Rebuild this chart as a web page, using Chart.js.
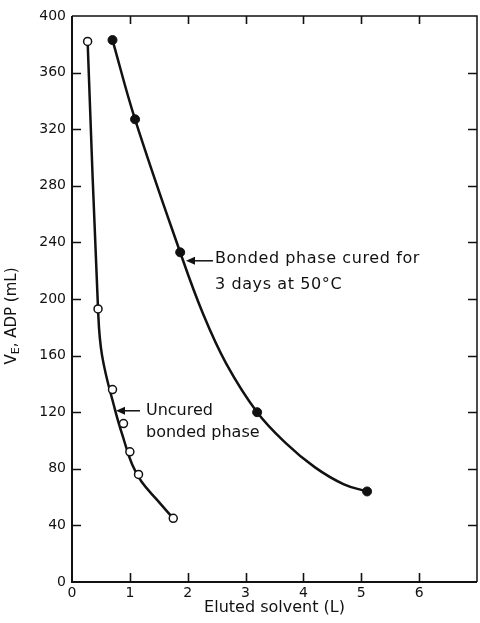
<!DOCTYPE html>
<html>
<head>
<meta charset="utf-8">
<script src="https://cdn.jsdelivr.net/npm/chart.js@4.4.0/dist/chart.umd.min.js"></script>
<style>
  html, body { margin: 0; padding: 0; background: #fff; }
  canvas { display: block; }
</style>
</head>
<body>
<canvas id="chart" width="480" height="623"></canvas>
<script>
// uncured bonded phase (open circles)
const uncuredX = [0.27, 0.45, 0.70, 0.89, 1.00, 1.15, 1.75];
const uncuredY = [382, 193, 136, 112, 92, 76, 45];
// the drawn fit line for the uncured phase
const uncuredCurveX = [0.27, 0.45, 0.52, 0.745, 0.90, 1.04, 1.20, 1.47, 1.75];
const uncuredCurveY = [382, 193, 160, 121.5, 100, 83, 71, 58, 45];
// bonded phase cured 3 days at 50°C (filled circles)
const curedX = [0.70, 1.09, 1.87, 3.20, 5.10];
const curedY = [383, 327, 233, 120, 64];
// the drawn line through the cured points
const curedCurveX = [0.70, 1.09, 1.87, 2.27, 2.67, 3.20, 3.70, 4.20, 4.70, 5.10];
const curedCurveY = [383, 327, 233, 189, 154, 120, 98, 81, 69, 64];

const xMin = 0, xMax = 7, xStep = 1;
const yMin = 0, yMax = 400, yStep = 40;

const fontFamily = "'DejaVu Sans', sans-serif";
const ink = "#111";

function toPoints(xs, ys) {
  return xs.map((x, i) => ({ x: x, y: ys[i] }));
}

// box frame + inward ticks on all four sides
const framePlugin = {
  id: "frame",
  afterDraw(chart) {
    const { ctx, chartArea: a, scales: { x, y } } = chart;
    ctx.save();
    ctx.strokeStyle = ink;
    ctx.lineCap = "butt";

    // left and bottom axis (heavier)
    ctx.lineWidth = 2;
    ctx.beginPath();
    ctx.moveTo(a.left, a.top);
    ctx.lineTo(a.left, a.bottom);
    ctx.lineTo(a.right, a.bottom);
    ctx.stroke();

    // top and right (lighter)
    ctx.lineWidth = 1.5;
    ctx.beginPath();
    ctx.moveTo(a.left, a.top);
    ctx.lineTo(a.right, a.top);
    ctx.lineTo(a.right, a.bottom);
    ctx.stroke();

    const len = 9;
    ctx.lineWidth = 1.6;
    ctx.beginPath();
    x.ticks.forEach(t => {
      if (t.value <= xMin || t.value >= xMax) return;
      const px = Math.round(x.getPixelForValue(t.value)) + 0.5;
      ctx.moveTo(px, a.bottom);
      ctx.lineTo(px, a.bottom - len);
      ctx.moveTo(px, a.top);
      ctx.lineTo(px, a.top + len - 1);
    });
    y.ticks.forEach(t => {
      if (t.value <= yMin || t.value >= yMax) return;
      const py = Math.round(y.getPixelForValue(t.value)) + 0.5;
      ctx.moveTo(a.left, py);
      ctx.lineTo(a.left + len, py);
      ctx.moveTo(a.right, py);
      ctx.lineTo(a.right - len, py);
    });
    ctx.stroke();
    ctx.restore();
  }
};

function arrowLeft(ctx, tipX, tipY, tailX) {
  ctx.beginPath();
  ctx.moveTo(tailX, tipY);
  ctx.lineTo(tipX + 6, tipY);
  ctx.lineWidth = 1.5;
  ctx.stroke();
  ctx.beginPath();
  ctx.moveTo(tipX, tipY);
  ctx.lineTo(tipX + 9, tipY - 4);
  ctx.lineTo(tipX + 9, tipY + 4);
  ctx.closePath();
  ctx.fill();
}

// callouts and the y title (it needs a subscript)
const notesPlugin = {
  id: "notes",
  afterDraw(chart) {
    const { ctx, chartArea: a, scales: { x, y } } = chart;
    ctx.save();
    ctx.fillStyle = ink;
    ctx.strokeStyle = ink;
    ctx.font = "16px " + fontFamily;
    ctx.textBaseline = "middle";
    ctx.textAlign = "left";

    // cured curve callout
    let tx = x.getPixelForValue(1.97), ty = y.getPixelForValue(227);
    arrowLeft(ctx, tx, ty, tx + 27);
    ctx.letterSpacing = "0.6px";
    ctx.fillText("Bonded phase cured for", tx + 29, ty - 2);
    ctx.fillText("3 days at 50°C", tx + 29, ty + 24);
    ctx.letterSpacing = "0px";

    // uncured curve callout
    tx = x.getPixelForValue(0.76); ty = y.getPixelForValue(121);
    arrowLeft(ctx, tx, ty, tx + 24);
    ctx.fillText("Uncured", tx + 30, ty);
    ctx.fillText("bonded phase", tx + 30, ty + 22);

    // y axis title: V_E, ADP (mL)
    const big = "15px " + fontFamily, small = "11px " + fontFamily;
    const parts = [["V", big, 0], ["E", small, 4], [", ADP (mL)", big, 0]];
    let total = 0;
    parts.forEach(p => { ctx.font = p[1]; total += ctx.measureText(p[0]).width; });
    ctx.translate(12, (a.top + a.bottom) / 2 + 17);
    ctx.rotate(-Math.PI / 2);
    let cx = -total / 2;
    parts.forEach(p => {
      ctx.font = p[1];
      ctx.fillText(p[0], cx, p[2]);
      cx += ctx.measureText(p[0]).width;
    });
    ctx.restore();
  }
};

const tickFont = { family: fontFamily, size: 14 };

new Chart(document.getElementById("chart"), {
  type: "scatter",
  data: {
    datasets: [
      {
        label: "Uncured bonded phase",
        data: toPoints(uncuredX, uncuredY),
        showLine: false,
        pointRadius: 4,
        pointBackgroundColor: "#fff",
        pointBorderColor: ink,
        pointBorderWidth: 1.5,
        order: 0
      },
      {
        label: "Bonded phase cured for 3 days at 50°C",
        data: toPoints(curedX, curedY),
        showLine: false,
        pointRadius: 4.5,
        pointBackgroundColor: ink,
        pointBorderColor: ink,
        order: 1
      },
      {
        label: "Cured curve",
        data: toPoints(curedCurveX, curedCurveY),
        showLine: true,
        tension: 0.4,
        borderColor: ink,
        borderWidth: 2.5,
        pointRadius: 0,
        order: 2
      },
      {
        label: "Uncured curve",
        data: toPoints(uncuredCurveX, uncuredCurveY),
        showLine: true,
        tension: 0.4,
        borderColor: ink,
        borderWidth: 2.5,
        pointRadius: 0,
        order: 3
      }
    ]
  },
  options: {
    responsive: false,
    animation: false,
    devicePixelRatio: 1,
    layout: { autoPadding: false, padding: { top: 16, right: 2, left: 0, bottom: 0 } },
    plugins: {
      legend: { display: false },
      tooltip: { enabled: false }
    },
    scales: {
      x: {
        type: "linear",
        min: xMin,
        max: xMax,
        grid: { display: false, drawTicks: false },
        border: { display: false },
        ticks: {
          stepSize: xStep,
          color: ink,
          font: tickFont,
          padding: 3,
          maxRotation: 0,
          callback: v => (v === xMax ? "" : v)
        },
        title: {
          display: true,
          text: "Eluted solvent (L)",
          color: ink,
          font: { family: fontFamily, size: 16 },
          padding: { top: 0, bottom: 6 }
        },
        afterFit: s => { s.height = 41; }
      },
      y: {
        type: "linear",
        min: yMin,
        max: yMax,
        grid: { display: false, drawTicks: false },
        border: { display: false },
        ticks: {
          stepSize: yStep,
          color: ink,
          font: tickFont,
          padding: 6
        },
        afterFit: s => { s.width = 72; }
      }
    }
  },
  plugins: [framePlugin, notesPlugin]
});
</script>
</body>
</html>
